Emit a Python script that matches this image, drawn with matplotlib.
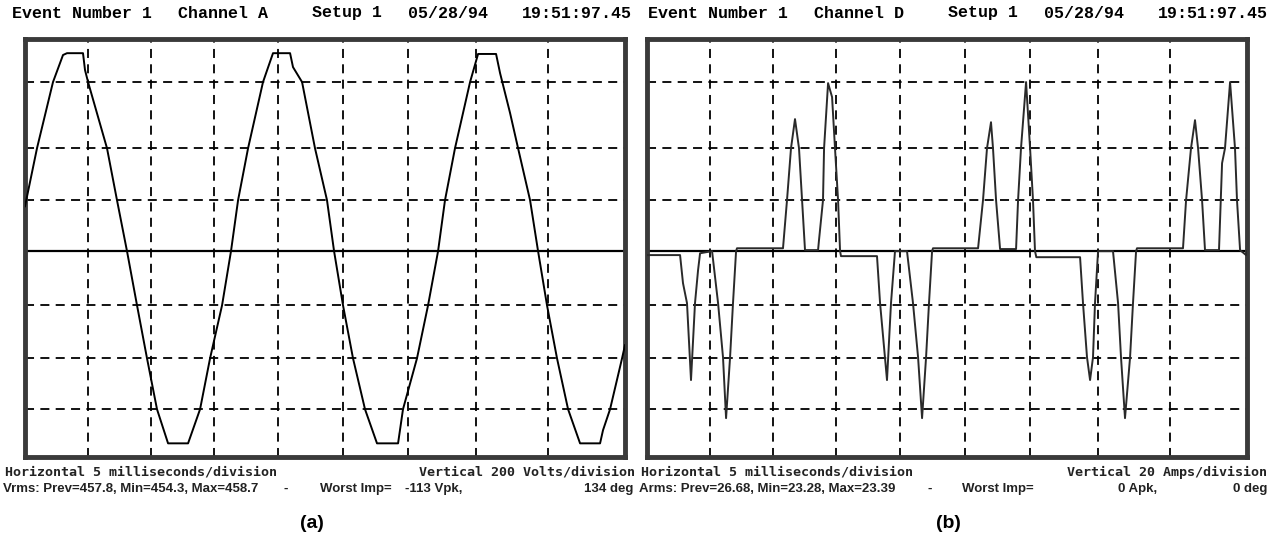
import matplotlib

# Sin interfaz gráfica
matplotlib.use("Agg")

import matplotlib.pyplot as plt

# Tensión canal A (tiempo en ms, tensión en V)
volt_t = [0.0, 0.9, 2.1, 2.85, 3.15, 4.35, 4.5, 4.73, 6.15, 6.9, 7.65, 8.4,
          9.15, 9.9, 10.73, 12.23, 13.13, 13.88, 14.78, 15.45, 15.98, 16.73,
          17.85, 18.6, 19.88, 20.1, 20.78, 21.75, 22.65, 23.18, 23.85, 24.6,
          25.5, 26.4, 27.98, 28.35, 29.4, 30.23, 30.98, 31.5, 32.25, 33.38,
          33.98, 35.33, 35.63, 36.38, 36.98, 37.88, 38.48, 39.15, 39.9, 40.73,
          41.63, 43.13, 43.35, 43.88, 44.78, 45.0]
volt_v = [171, 392, 644, 747, 754, 754, 690, 644, 392, 194, 0, -206,
          -408, -602, -732, -732, -602, -408, -206, 0, 194, 392,
          644, 754, 754, 701, 644, 392, 194, 0, -206, -408,
          -602, -732, -732, -602, -408, -206, 0, 194, 392, 644,
          751, 751, 678, 526, 392, 194, 0, -206, -408, -602,
          -732, -732, -682, -602, -408, -358]

# Corriente canal D (tiempo en ms, corriente en A)
amp_t = [0.0, 2.48, 2.7, 3.0, 3.3, 3.6, 3.83, 3.98, 4.88, 5.33, 5.7, 5.93,
         6.23, 6.45, 6.68, 6.75, 10.2, 10.5, 10.8, 11.1, 11.4, 11.63, 11.85,
         12.83, 12.9, 13.2, 13.28, 13.58, 13.88, 14.1, 14.33, 14.48, 14.55, 17.1,
         17.25, 17.48, 18.0, 18.3, 18.6, 19.5, 19.95, 20.33, 20.63, 20.93,
         21.15, 21.38, 21.45, 24.83, 25.2, 25.5, 25.8, 25.95, 26.18, 26.48,
         27.68, 27.83, 28.05, 28.43, 28.73, 28.95, 29.1, 29.2, 32.33, 32.48, 32.7,
         33.0, 33.23, 33.45, 33.6, 33.83, 34.95, 35.33, 35.55, 35.85, 36.23,
         36.45, 36.68, 36.75, 40.2, 40.43, 40.8, 41.1, 41.33, 41.63, 41.85,
         42.9, 43.13, 43.35, 43.73, 44.1, 44.25, 44.48, 44.93, 45.0]
amp_i = [-1.5, -1.5, -12.2, -19.8, -49.1, -19.8, -7.2, -0.8, 0.0, -19.8, -40.4, -63.6,
         -40.4, -19.8, 0.0, 1.1, 1.1, 19.4, 39.2, 50.3, 39.2, 19.4, 0.4,
         0.4, 4.2, 19.4, 39.2, 64.0, 58.7, 39.2, 19.4, 0.0, -1.9, -1.9,
         -1.9, -19.8, -49.1, -19.8, 0.0, 0.0, -19.8, -40.4, -63.6, -40.4,
         -19.8, 0.0, 1.1, 1.1, 19.4, 39.2, 49.1, 39.2, 19.4, 0.8,
         0.8, 19.4, 39.2, 64.4, 39.2, 19.4, 0.0, -2.3, -2.3, -2.3, -19.8,
         -40.4, -49.1, -40.4, -19.8, 0.0, 0.0, -19.8, -40.4, -63.6, -40.4,
         -19.8, 0.0, 1.1, 1.1, 19.4, 39.2, 49.9, 39.2, 19.4, 0.4,
         0.4, 33.5, 39.2, 64.4, 39.2, 19.4, 0.4, -1.5, 0.0]

# Textos de cabecera y pie
header_a = ["Event Number 1", "Channel A", "Setup 1", "05/28/94", "19:51:97.45"]
header_d = ["Event Number 1", "Channel D", "Setup 1", "05/28/94", "19:51:97.45"]
footer1_a = ["Horizontal 5 milliseconds/division", "Vertical 200 Volts/division"]
footer1_d = ["Horizontal 5 milliseconds/division", "Vertical 20 Amps/division"]
footer2_a = ["Vrms: Prev=457.8, Min=454.3, Max=458.7", "-", "Worst Imp=",
             "-113 Vpk,", "134 deg"]
footer2_d = ["Arms: Prev=26.68, Min=23.28, Max=23.39", "-", "Worst Imp=",
             "0 Apk,", "0 deg"]

# Estilo de la pantalla (rejilla en divisiones, escaneo irregular)
W, H = 1274, 543
GRID_X = [4.7, 9.45, 14.2, 19.0, 23.85, 28.7, 33.8, 39.2]
GRID_Y = [3.22, 1.96, 0.97, -1.03, -2.04, -3.01]
YLIM = (-3.92, 4.04)
HEADER_X = [12, 178, 312, 408, 522]


def pantalla(fig, left, t, y, per_div, trace_color):

    ax = fig.add_axes([left / W, (H - 457) / H, 600 / W, 418 / H])

    ax.set_xlim(0, 45)
    ax.set_ylim(YLIM[0] * per_div, YLIM[1] * per_div)

    # Rejilla discontinua
    for gx in GRID_X:
        ax.axvline(gx, color="black", lw=1.3, ls=(0, (5, 3.5)), zorder=1)
    for gy in GRID_Y:
        ax.axhline(gy * per_div, color="black", lw=1.3, ls=(0, (5, 3.5)), zorder=1)

    # Línea de cero
    ax.axhline(0, color="black", lw=1.6, zorder=2)

    ax.plot(t, y, color=trace_color, lw=1.4, zorder=3)

    ax.set_xticks([])
    ax.set_yticks([])
    for s in ax.spines.values():
        s.set_linewidth(3.5)
        s.set_color("#3a3a3a")

    return ax


def textos(fig, left, header, foot1, foot2, foot1_right, foot2_x, label):

    for x, txt in zip(HEADER_X, header):
        fig.text((left + x) / W, 1 - 13 / H, txt, family="Liberation Mono",
                 weight="bold", fontsize=12, ha="left", va="center")

    # Primera línea del pie
    f1 = dict(family="DejaVu Sans Mono", weight="bold", fontsize=9.6,
              va="center", color="#222222")
    fig.text((left + 5) / W, 1 - 472 / H, foot1[0], ha="left", **f1)
    fig.text((left + foot1_right) / W, 1 - 472 / H, foot1[1], ha="right", **f1)

    # Segunda línea del pie, por trozos
    f2 = dict(family="Liberation Sans", weight="bold", fontsize=9.5,
              va="center", color="#222222")
    for i, (x, txt) in enumerate(zip(foot2_x, foot2)):
        ha = "right" if i == len(foot2) - 1 else "left"
        fig.text((left + x) / W, 1 - 489 / H, txt, ha=ha, **f2)

    fig.text((left + 312) / W, 1 - 524 / H, label, family="Liberation Sans",
             weight="bold", fontsize=14, ha="center", va="center")


fig = plt.figure(figsize=(W / 100, H / 100), dpi=100)
fig.patch.set_facecolor("white")

pantalla(fig, 25, volt_t, volt_v, 200, "black")
pantalla(fig, 647, amp_t, amp_i, 20, "#2a2a2a")

textos(fig, 0, header_a, footer1_a, footer2_a, 635, [3, 283, 320, 405, 633], "(a)")
textos(fig, 636, header_d, footer1_d, footer2_d, 631, [3, 291, 326, 482, 631], "(b)")

plt.savefig("out.png", dpi=100)
plt.close()
